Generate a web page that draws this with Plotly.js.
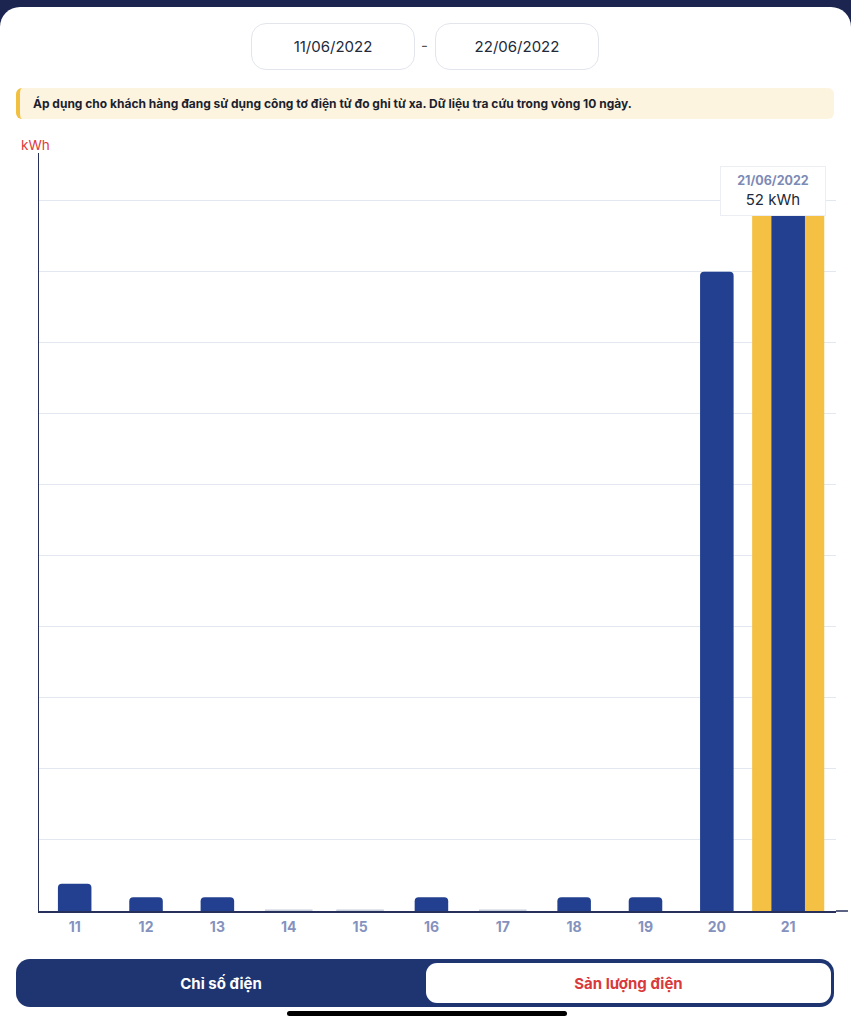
<!DOCTYPE html>
<html>
<head>
<meta charset="utf-8">
<script src="https://cdn.plot.ly/plotly-3.0.1.min.js"></script>
<style>
  html, body { margin:0; padding:0; }
  body { width:851px; height:1024px; background:#1b2550; position:relative; overflow:hidden; font-family: Inter, "Noto Sans", sans-serif; }
  #card { position:absolute; left:0; top:7px; width:851px; height:1040px; background:#fff; border-radius:20px 20px 0 0; }
  .datebox { position:absolute; top:23px; width:164px; height:47px; border:1px solid #e2e5ec; border-radius:15px; box-sizing:border-box;
    display:flex; align-items:center; justify-content:center; font-size:15px; color:#222a3a; }
  #dash { position:absolute; left:421px; top:36px; font-size:15px; color:#555; }
  #banner { position:absolute; left:16px; top:88px; width:818px; height:31px; background:#fcf4df; border-radius:6px; border-left:4px solid #f2c040;
    box-sizing:border-box; font-size:12px; font-weight:700; color:#1c1f2e; line-height:31px; padding-left:13px; }
  #chart { position:absolute; left:0; top:122px; width:851px; height:838px; }
  #toggle { position:absolute; left:16px; top:959px; width:818px; height:48px; background:#1e3571; border-radius:14px; }
  #left { position:absolute; left:0; top:0; width:410px; height:48px; display:flex; align-items:center; justify-content:center; color:#fff; font-weight:700; font-size:15px; }
  #right { position:absolute; left:410px; top:4px; width:405px; height:40px; background:#fff; border-radius:11px; display:flex; align-items:center; justify-content:center; color:#d8393a; font-weight:700; font-size:15px; }
  #home { position:absolute; left:287px; top:1011px; width:280px; height:5px; background:#000; border-radius:3px; }
</style>
</head>
<body>
<div id="card"></div>
<div class="datebox" style="left:251px;">11/06/2022</div>
<div id="dash">-</div>
<div class="datebox" style="left:435px;">22/06/2022</div>
<div id="banner">Áp dụng cho khách hàng đang sử dụng công tơ điện tử đo ghi từ xa. Dữ liệu tra cứu trong vòng 10 ngày.</div>
<div id="chart"></div>
<div id="toggle"><div id="left">Chỉ số điện</div><div id="right">Sản lượng điện</div></div>
<div id="home"></div>
<script>
// ---- data ----
const days = ['11','12','13','14','15','16','17','18','19','20','21'];
const kwh = [2, 1, 1, 0, 0, 1, 0, 1, 1, 46.8, 52];
const selectedDay = '21';
const selectedDate = '21/06/2022';
const unit = 'kWh';

// ---- styles ----
const barColor = '#22408f';
const hiColor = '#f4c144';
const yMax = 55.5;
const gridStep = 5.2;
const highlightTop = 54.3;

const selIdx = days.indexOf(selectedDay);
const zeroDays = days.filter((d, i) => kwh[i] === 0);

const traces = [
  { type:'bar', x:[selectedDay], y:[highlightTop], width:[1.01], marker:{color:hiColor}, hoverinfo:'skip' },
  { type:'bar', x:days, y:kwh, width:days.map(() => 0.47), marker:{color:barColor, cornerradius:4}, hoverinfo:'skip' },
  { type:'scatter', mode:'markers', x:zeroDays, y:zeroDays.map(() => 0), cliponaxis:false,
    marker:{symbol:'line-ew', size:34, line:{color:'#c9cedd', width:3}}, hoverinfo:'skip' }
];

const layout = {
  width:851, height:838,
  margin:{l:39, r:15, t:31, b:49},
  paper_bgcolor:'rgba(0,0,0,0)', plot_bgcolor:'rgba(0,0,0,0)',
  barmode:'overlay', showlegend:false,
  font:{family:'Inter, "Noto Sans", sans-serif'},
  xaxis:{ type:'category', categoryorder:'array', categoryarray:days, range:[-0.5, 10.67],
    showline:true, linecolor:'#27305a', linewidth:1.5, showgrid:false, zeroline:false, ticks:'',
    ticklabelstandoff:3,
    tickfont:{size:14, color:'#8592bd', family:'Inter, sans-serif', weight:700}, fixedrange:true },
  yaxis:{ range:[0, yMax], dtick:gridStep, tick0:0, showticklabels:false, ticks:'',
    showline:true, linecolor:'#27305a', linewidth:1.5, showgrid:true, gridcolor:'#e3e7ef', gridwidth:1,
    zeroline:false, fixedrange:true },
  annotations:[
    { xref:'paper', yref:'paper', x:0, y:1, xanchor:'center', yanchor:'bottom', xshift:-4, yshift:-2,
      text:unit, showarrow:false, font:{size:13.5, color:'#e0393a'} },
    { xref:'x', yref:'y', x:selIdx, y:kwh[selIdx], xanchor:'center', yanchor:'bottom', xshift:-15, yshift:-15,
      width:92, borderpad:6,
      text:'<span style="color:#7d8ab4;font-weight:700;font-size:12.5px">' + selectedDate + '</span><br>' + kwh[selIdx] + ' ' + unit,
      showarrow:false, bgcolor:'#ffffff', bordercolor:'#eceef3', borderwidth:1,
      font:{size:15, color:'#222a3a'}, align:'center' }
  ],
  shapes:[
    { type:'line', xref:'paper', yref:'paper', x0:1, x1:1.015, y0:0, y1:0, line:{color:'#27305a', width:1.5} }
  ]
};

Plotly.newPlot('chart', traces, layout, {displayModeBar:false, staticPlot:true});
</script>
</body>
</html>
